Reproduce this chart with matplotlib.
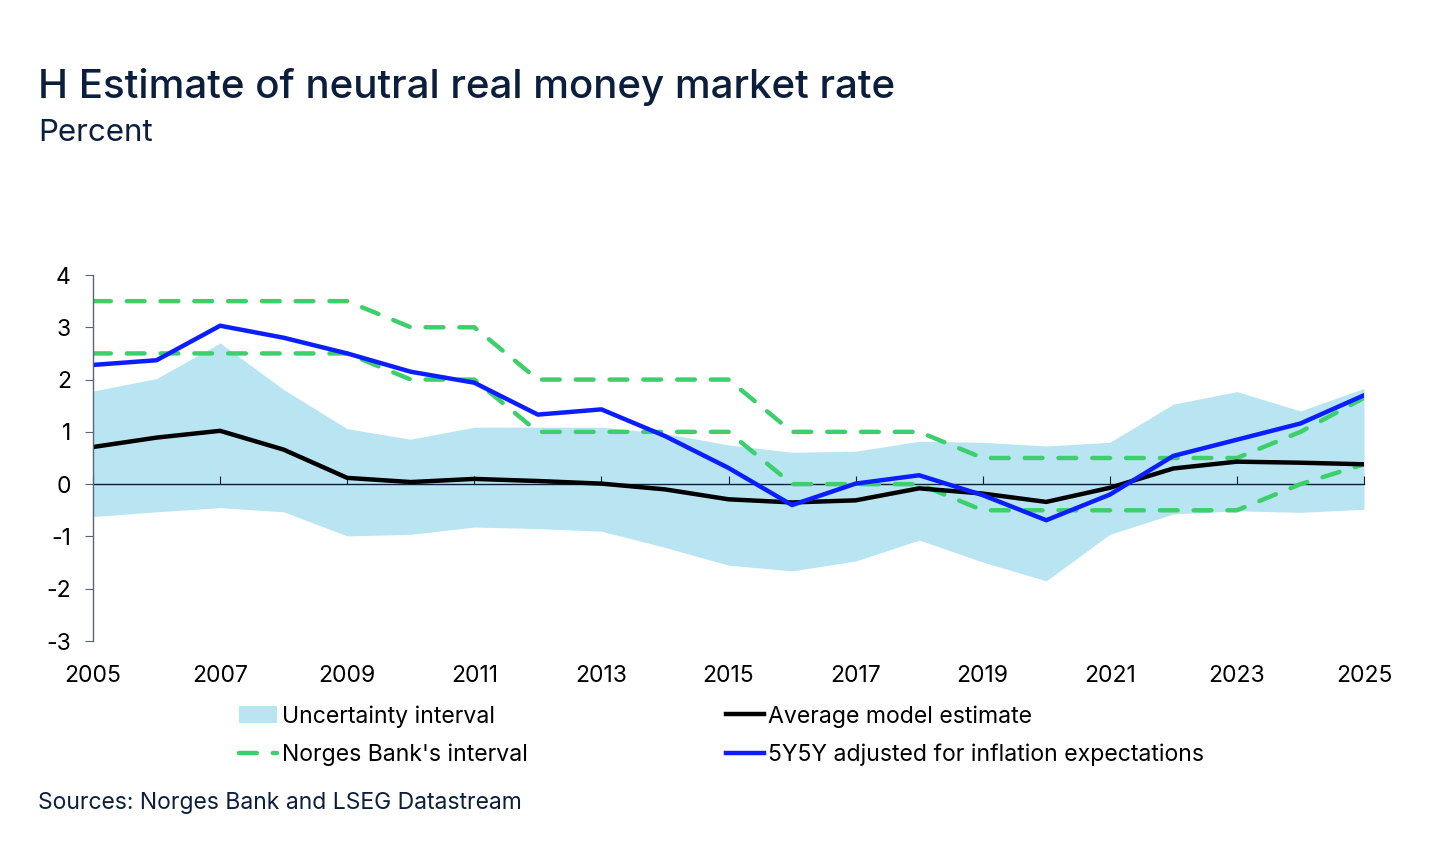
import numpy as np
import matplotlib.pyplot as plt

plt.rcParams['font.family'] = ['Inter', 'DejaVu Sans']
plt.rcParams['axes.unicode_minus'] = False

years = np.arange(2005, 2026)

unc_upper = [1.78, 2.02, 2.70, 1.81, 1.06, 0.86, 1.09, 1.09, 1.09, 0.97, 0.75,
             0.61, 0.63, 0.82, 0.80, 0.73, 0.80, 1.53, 1.77, 1.40, 1.83]
unc_lower = [-0.62, -0.53, -0.45, -0.53, -0.99, -0.96, -0.82, -0.85, -0.90, -1.21, -1.55,
             -1.66, -1.47, -1.07, -1.49, -1.85, -0.96, -0.57, -0.51, -0.54, -0.48]
avg_model = [0.71, 0.89, 1.02, 0.66, 0.12, 0.04, 0.10, 0.06, 0.01, -0.10, -0.29,
             -0.35, -0.31, -0.08, -0.18, -0.34, -0.07, 0.30, 0.43, 0.41, 0.38]
fivey = [2.28, 2.37, 3.03, 2.80, 2.50, 2.15, 1.94, 1.33, 1.43, 0.92, 0.31,
         -0.40, 0.01, 0.17, -0.21, -0.69, -0.20, 0.54, 0.85, 1.16, 1.70]
nb_upper = [3.5, 3.5, 3.5, 3.5, 3.5, 3.0, 3.0, 2.0, 2.0, 2.0, 2.0,
            1.0, 1.0, 1.0, 0.5, 0.5, 0.5, 0.5, 0.5, 1.0, 1.65]
nb_lower = [2.5, 2.5, 2.5, 2.5, 2.5, 2.0, 2.0, 1.0, 1.0, 1.0, 1.0,
            0.0, 0.0, 0.0, -0.5, -0.5, -0.5, -0.5, -0.5, 0.0, 0.38]

navy = '#0b1e3c'
green = '#3ccf6c'
blue = '#0a1eff'
light = '#b9e5f2'

fig = plt.figure(figsize=(14.45, 8.51), dpi=100)
ax = fig.add_axes([93/1445, 1-641/851, (1364-93)/1445, (641-275)/851])

ax.fill_between(years, unc_lower, unc_upper, color=light, lw=0, label='Uncertainty interval')
ax.plot(years, nb_upper, color=green, lw=3.2, dashes=(4, 3.6), dash_capstyle='round',
        label="Norges Bank's interval")
ax.plot(years, nb_lower, color=green, lw=3.2, dashes=(4, 3.6), dash_capstyle='round')
ax.plot(years, avg_model, color='black', lw=3.2, label='Average model estimate')
ax.plot(years, fivey, color=blue, lw=3.2, label='5Y5Y adjusted for inflation expectations')

ax.set_xlim(2005, 2025)
ax.set_ylim(-3, 4)
ax.set_yticks(range(-3, 5))
ax.set_xticks(range(2005, 2026, 2))

for s in ['top', 'right']:
    ax.spines[s].set_visible(False)
ax.spines['left'].set_color('#5a6478')
ax.spines['left'].set_linewidth(1)
ax.spines['bottom'].set_position(('data', 0))
ax.spines['bottom'].set_color(navy)
ax.spines['bottom'].set_linewidth(1)
ax.spines['bottom'].set_zorder(1.5)

ax.tick_params(axis='y', direction='out', length=6, color='#5a6478', labelsize=16.5, pad=10)
ax.tick_params(axis='x', direction='in', length=6, color=navy, labelsize=16.5, pad=130)

fig.text(38/1445, 1-87/851, 'H Estimate of neutral real money market rate', fontsize=29,
         color=navy, va='center', ha='left', fontweight='medium')
fig.text(38/1445, 1-133/851, 'Percent', fontsize=22.5, color=navy, va='center', ha='left')
fig.text(38/1445, 1-803/851, 'Sources: Norges Bank and LSEG Datastream', fontsize=16.5,
         color=navy, va='center', ha='left')

h, l = ax.get_legend_handles_labels()
fig.legend(h, l, ncol=2, frameon=False,
           loc='upper left', bbox_to_anchor=(239/1445, 1-705/851), fontsize=16.6,
           handlelength=1.65, handletextpad=0.2, columnspacing=8.6, labelspacing=0.68,
           borderaxespad=0, borderpad=0)

fig.savefig('out.png', dpi=100)
